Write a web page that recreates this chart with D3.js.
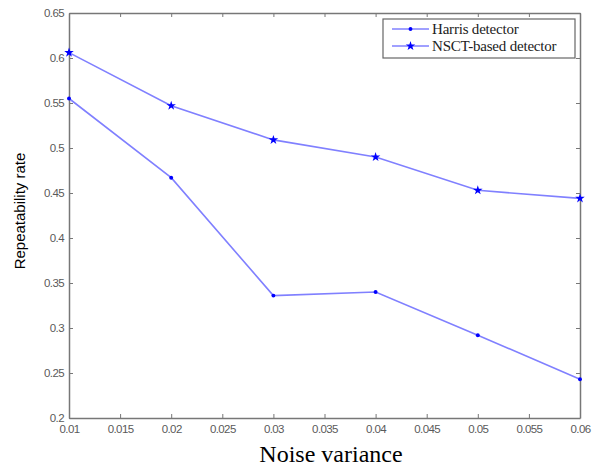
<!DOCTYPE html>
<html>
<head>
<meta charset="utf-8">
<script src="https://cdn.jsdelivr.net/npm/d3@7"></script>
<style>
  body { margin: 0; background: #fff; }
  .tick text { font-family: "Liberation Sans", Arial, sans-serif; font-size: 11.5px; fill: #5a5a5a; letter-spacing: -0.6px; }
</style>
</head>
<body>
<div id="chart"></div>
<script>
const noise = [0.01, 0.02, 0.03, 0.04, 0.05, 0.06];
const harris = [0.555, 0.467, 0.336, 0.340, 0.292, 0.243];
const nsct = [0.606, 0.547, 0.509, 0.490, 0.453, 0.444];
const seriesNames = ['Harris detector', 'NSCT-based detector'];
const xTicks = [0.01, 0.015, 0.02, 0.025, 0.03, 0.035, 0.04, 0.045, 0.05, 0.055, 0.06];
const yTicks = [0.2, 0.25, 0.3, 0.35, 0.4, 0.45, 0.5, 0.55, 0.6, 0.65];

const width = 599, height = 468;
const margin = {top: 13, right: 19, bottom: 50, left: 69};

const svg = d3.select('#chart').append('svg')
  .attr('width', width)
  .attr('height', height);

const x = d3.scaleLinear().domain([0.01, 0.06]).range([margin.left, width - margin.right]);
const y = d3.scaleLinear().domain([0.2, 0.65]).range([height - margin.bottom, margin.top]);

const axisColor = '#777';
const fmt = d => String(+d.toFixed(3));

function styleAxis(g) {
  g.select('.domain').attr('stroke', axisColor).attr('stroke-width', 1.5);
  g.selectAll('.tick line').attr('stroke', axisColor);
}

// bottom + left axes with labels, ticks inward
svg.append('g')
  .attr('transform', `translate(0,${y(0.2)})`)
  .call(d3.axisBottom(x).tickValues(xTicks).tickFormat(fmt).tickSizeInner(-4).tickSizeOuter(0).tickPadding(7))
  .call(styleAxis);

svg.append('g')
  .attr('transform', `translate(${x(0.01)},0)`)
  .call(d3.axisLeft(y).tickValues(yTicks).tickFormat(fmt).tickSizeInner(-4).tickSizeOuter(0).tickPadding(5))
  .call(styleAxis);

// top + right axes, no labels
svg.append('g')
  .attr('transform', `translate(0,${y(0.65)})`)
  .call(d3.axisTop(x).tickValues(xTicks).tickFormat('').tickSizeInner(-4).tickSizeOuter(0))
  .call(styleAxis);

svg.append('g')
  .attr('transform', `translate(${x(0.06)},0)`)
  .call(d3.axisRight(y).tickValues(yTicks).tickFormat('').tickSizeInner(-4).tickSizeOuter(0))
  .call(styleAxis);

const line = d3.line().x(d => x(d[0])).y(d => y(d[1]));
const lineColor = '#8080ff';
const markColor = '#0000ff';
const marker = [d3.symbol(d3.symbolCircle, 12), d3.symbol(d3.symbolStar, 28)];

[harris, nsct].forEach((vals, i) => {
  const pts = noise.map((n, j) => [n, vals[j]]);
  svg.append('path')
    .datum(pts)
    .attr('fill', 'none')
    .attr('stroke', lineColor)
    .attr('stroke-width', 1.6)
    .attr('d', line);
  svg.append('g').selectAll('path')
    .data(pts)
    .join('path')
    .attr('transform', d => `translate(${x(d[0])},${y(d[1])})`)
    .attr('d', marker[i])
    .attr('fill', markColor);
});

// legend
const lg = svg.append('g').attr('transform', 'translate(383,19)');
lg.append('rect')
  .attr('width', 192).attr('height', 39)
  .attr('fill', '#fff')
  .attr('stroke', '#666').attr('stroke-width', 1.2);
seriesNames.forEach((name, i) => {
  const yy = 10 + i * 17;
  lg.append('line')
    .attr('x1', 9).attr('x2', 46).attr('y1', yy).attr('y2', yy)
    .attr('stroke', lineColor).attr('stroke-width', 1.6);
  lg.append('path')
    .attr('transform', `translate(27.5,${yy})`)
    .attr('d', marker[i])
    .attr('fill', markColor);
  lg.append('text')
    .attr('x', 49).attr('y', yy + 4.5)
    .attr('font-family', '"Liberation Serif", "Times New Roman", serif')
    .attr('font-size', 15)
    .attr('letter-spacing', -0.2)
    .attr('fill', '#222')
    .text(name);
});

// axis titles
svg.append('text')
  .attr('x', 331).attr('y', 462)
  .attr('text-anchor', 'middle')
  .attr('font-family', '"Liberation Serif", "Times New Roman", serif')
  .attr('font-size', 24)
  .text('Noise variance');

svg.append('text')
  .attr('transform', `translate(25,${y(0.43)}) rotate(-90)`)
  .attr('text-anchor', 'middle')
  .attr('font-family', '"Liberation Sans", Arial, sans-serif')
  .attr('font-size', 15)
  .text('Repeatability rate');
</script>
</body>
</html>
